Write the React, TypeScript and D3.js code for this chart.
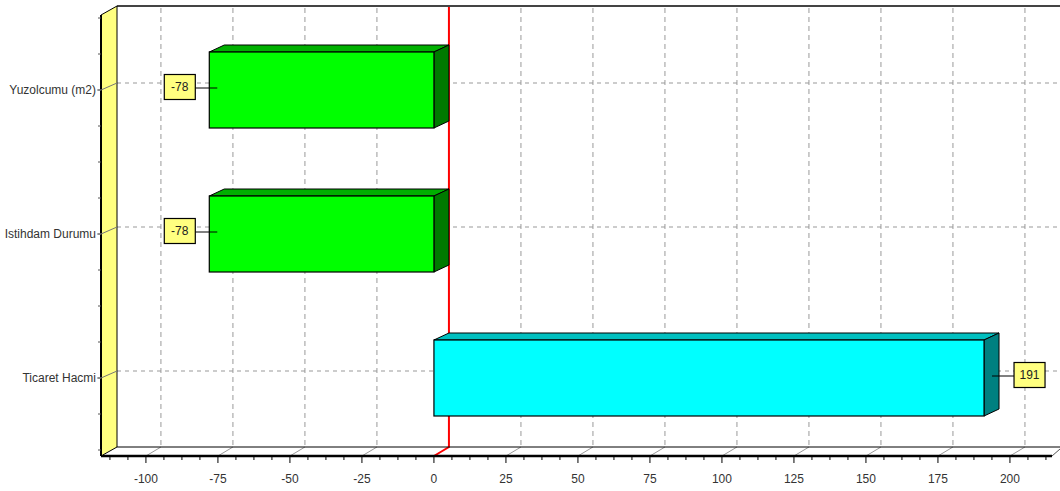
import * as React from "react";
import * as d3 from "d3";

// chart data
const categories = ["Yuzolcumu (m2)", "Istihdam Durumu", "Ticaret Hacmi"];
const values = [-78, -78, 191];
const barColors = ["green", "green", "cyan"];
const xTicks = [-100, -75, -50, -25, 0, 25, 50, 75, 100, 125, 150, 175, 200];

const palette: Record<string, { front: string; top: string; side: string }> = {
  green: { front: "#00FF00", top: "#00B000", side: "#007A00" },
  cyan: { front: "#00FFFF", top: "#00BFBF", side: "#008080" },
};

const W = 1060;
const H = 491;
const DX = 16; // wall depth
const DY = 9;
const BDX = 15; // bar depth
const BDY = 7;
const FONT = "'Liberation Sans', Arial, sans-serif";

export default function App() {
  const x = d3.scaleLinear().domain([-115.6, 214.6]).range([101, 1052]);
  const y = d3.scaleBand<string>().domain(categories).range([18, 450]).padding(0);

  const floorY = 456;
  const backFloorY = floorY - DY;
  const topY = 6;
  const leftX = 101;
  const backLeftX = leftX + DX;
  const barH = 76;

  const minorTicks = d3.range(-112.5, 214, 6.25).filter((v) => v % 25 !== 0);
  const leftMinor = d3.range(0, 13).map((i) => 18 + i * (y.bandwidth() / 4));

  return (
    <svg
      width={W}
      height={H}
      style={{ position: "absolute", left: 0, top: 0, background: "#fff" }}
      fontFamily={FONT}
    >
      {/* back wall */}
      <rect x={backLeftX} y={topY} width={W - backLeftX} height={backFloorY - topY} fill="#fff" />
      <line x1={backLeftX} x2={W} y1={topY} y2={topY} stroke="#444" strokeWidth={2} />

      {/* vertical grid on back wall */}
      {xTicks
        .filter((v) => v !== 0)
        .map((v) => (
          <g key={"vg" + v}>
            <line
              x1={x(v) + BDX}
              x2={x(v) + BDX}
              y1={topY + 2}
              y2={backFloorY}
              stroke="#999"
              strokeDasharray="5,4"
            />
            <line x1={x(v)} y1={floorY} x2={x(v) + BDX} y2={backFloorY} stroke="#999" />
          </g>
        ))}

      {/* horizontal grid on back wall */}
      {categories.map((c) => {
        const cy = (y(c) as number) + y.bandwidth() / 2;
        return (
          <line
            key={"hg" + c}
            x1={backLeftX}
            x2={W}
            y1={cy - BDY}
            y2={cy - BDY}
            stroke="#999"
            strokeDasharray="4,4"
          />
        );
      })}

      {/* zero line */}
      <polyline
        points={`${x(0) + BDX},${topY + 1} ${x(0) + BDX},${backFloorY} ${x(0)},${floorY}`}
        fill="none"
        stroke="#FF0000"
        strokeWidth={2}
      />

      {/* floor */}
      <line x1={backLeftX} x2={W} y1={backFloorY} y2={backFloorY} stroke="#000" />
      <line x1={leftX} x2={1052} y1={floorY} y2={floorY} stroke="#000" strokeWidth={2.5} />
      <line x1={1052} y1={floorY} x2={1060} y2={floorY - 7} stroke="#555" />

      {/* left wall */}
      <polygon
        points={`${leftX},${topY + DY} ${backLeftX},${topY} ${backLeftX},${backFloorY} ${leftX},${floorY}`}
        fill="#FFFF80"
        stroke="#000"
      />
      <line x1={leftX} x2={leftX} y1={topY + DY} y2={floorY} stroke="#000" strokeWidth={2} />
      {leftMinor.map((t, i) => (
        <line key={"lm" + i} x1={leftX - 3} x2={leftX} y1={t} y2={t} stroke="#555" />
      ))}

      {/* category labels */}
      {categories.map((c) => {
        const cy = (y(c) as number) + y.bandwidth() / 2;
        return (
          <g key={"cl" + c}>
            <polyline
              points={`${leftX - 4},${cy} ${leftX},${cy} ${backLeftX},${cy - BDY}`}
              fill="none"
              stroke="#777"
            />
            <text x={leftX - 5} y={cy + 4} fontSize={12} textAnchor="end" fill="#333">
              {c}
            </text>
          </g>
        );
      })}

      {/* bars */}
      {categories.map((c, i) => {
        const v = values[i];
        const col = palette[barColors[i]];
        const cy = (y(c) as number) + y.bandwidth() / 2;
        const y0 = cy - barH / 2;
        const y1 = cy + barH / 2;
        const x0 = Math.min(x(0), x(v));
        const x1 = Math.max(x(0), x(v));
        return (
          <g key={"bar" + c}>
            <polygon
              points={`${x0},${y0} ${x0 + BDX},${y0 - BDY} ${x1 + BDX},${y0 - BDY} ${x1},${y0}`}
              fill={col.top}
              stroke="#000"
              strokeWidth={1}
            />
            <polygon
              points={`${x1},${y0} ${x1 + BDX},${y0 - BDY} ${x1 + BDX},${y1 - BDY} ${x1},${y1}`}
              fill={col.side}
              stroke="#000"
              strokeWidth={1}
            />
            <rect x={x0} y={y0} width={x1 - x0} height={y1 - y0} fill={col.front} stroke="#000" strokeWidth={1.2} />
          </g>
        );
      })}

      {/* value marks */}
      {categories.map((c, i) => {
        const v = values[i];
        const cy = (y(c) as number) + y.bandwidth() / 2;
        const label = String(v);
        const bw = label.length * 7 + 10;
        const bh = 25;
        const neg = v < 0;
        const xe = x(v);
        const boxX = neg ? xe - 14 - bw : xe + BDX + 15;
        const lineStart = neg ? xe + 8 : xe + 8;
        const lineEnd = neg ? boxX + bw : boxX;
        return (
          <g key={"vm" + c}>
            <line x1={lineStart} x2={lineEnd} y1={cy - 2} y2={cy - 2} stroke="#000" />
            <rect
              x={boxX}
              y={cy - 3 - bh / 2}
              width={bw}
              height={bh}
              fill="#FFFF80"
              stroke="#000"
              strokeWidth={1.2}
            />
            <text x={boxX + bw / 2} y={cy + 1} fontSize={12} textAnchor="middle" fill="#222">
              {label}
            </text>
          </g>
        );
      })}

      {/* bottom axis ticks and labels */}
      {minorTicks.map((v) => (
        <line key={"mt" + v} x1={x(v)} x2={x(v)} y1={floorY} y2={floorY + 4} stroke="#000" />
      ))}
      {xTicks.map((v) => (
        <g key={"xt" + v}>
          <line x1={x(v)} x2={x(v)} y1={floorY} y2={floorY + 7} stroke="#000" />
          <text x={x(v)} y={483} fontSize={12} textAnchor="middle" fill="#333">
            {v}
          </text>
        </g>
      ))}
    </svg>
  );
}
